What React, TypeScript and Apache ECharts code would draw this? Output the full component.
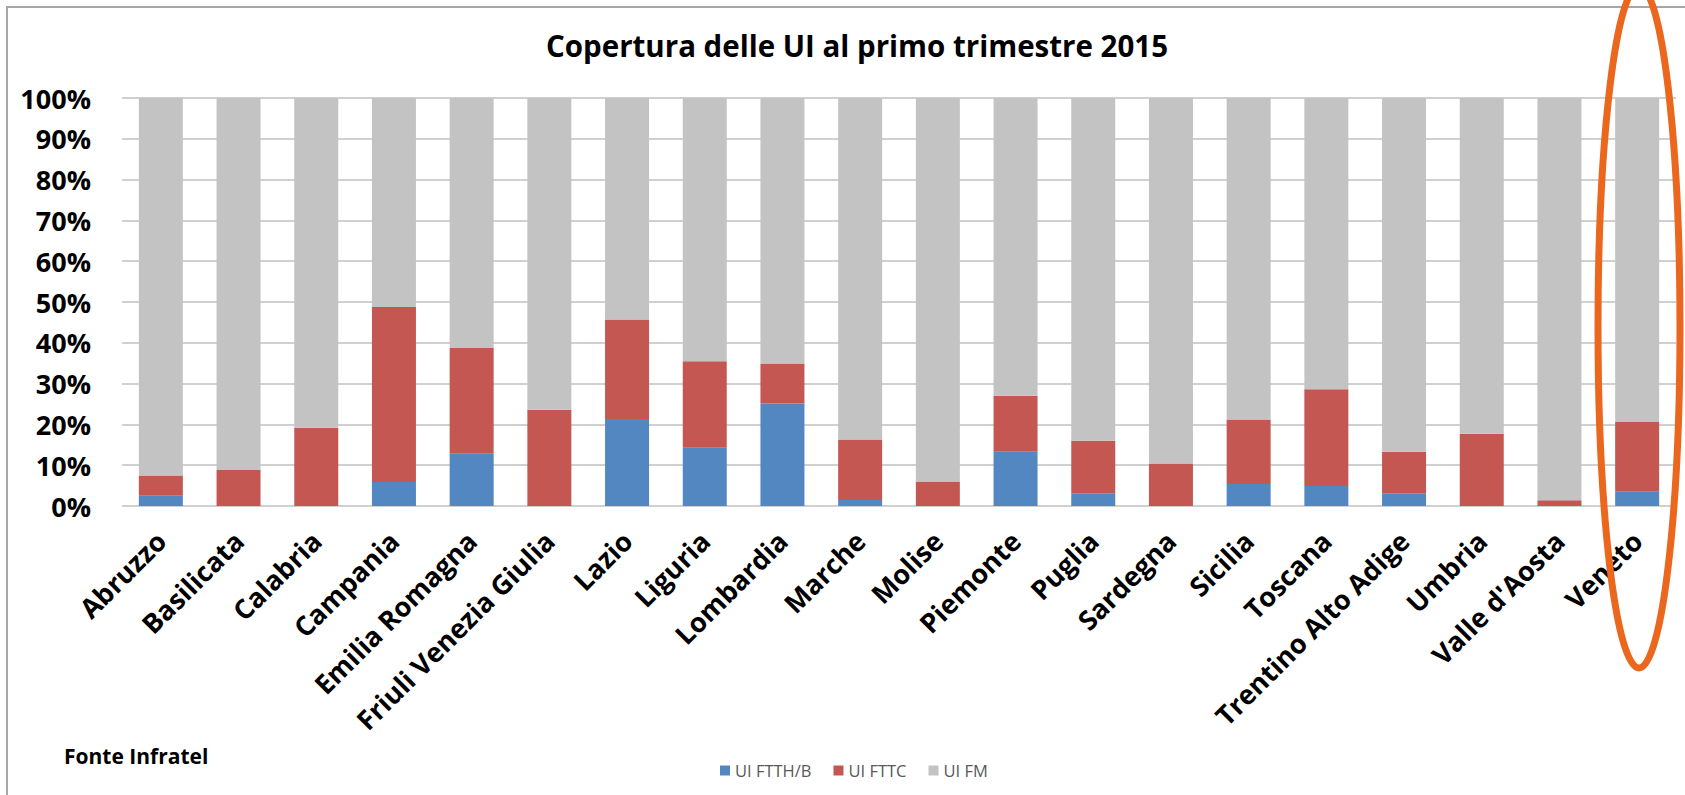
import React, { useEffect, useRef } from "react";
import * as echarts from "echarts";

const regions = [
  "Abruzzo", "Basilicata", "Calabria", "Campania", "Emilia Romagna",
  "Friuli Venezia Giulia", "Lazio", "Liguria", "Lombardia", "Marche",
  "Molise", "Piemonte", "Puglia", "Sardegna", "Sicilia", "Toscana",
  "Trentino Alto Adige", "Umbria", "Valle d'Aosta", "Veneto",
];
const uiFtthB = [2.5, 0, 0, 5.9, 12.8, 0, 21.3, 14.3, 25.1, 1.5, 0, 13.3, 3.1, 0, 5.4, 4.9, 3.1, 0, 0, 3.5];
const uiFttc = [5.0, 8.8, 19.2, 42.9, 25.9, 23.6, 24.4, 21.2, 9.8, 14.8, 6.0, 13.7, 12.9, 10.4, 15.8, 23.7, 10.2, 17.7, 1.4, 17.1];
const uiFm = [92.5, 91.2, 80.8, 51.2, 61.3, 76.4, 54.3, 64.5, 65.1, 83.7, 94.0, 73.0, 84.0, 89.6, 78.8, 71.4, 86.7, 82.3, 98.6, 79.4];
const seriesNames = ["UI FTTH/B", "UI FTTC", "UI FM"];
const seriesColors = ["#5387C1", "#C45752", "#C3C3C3"];
const yTicks = { min: 0, max: 100, interval: 10 };

const FONT = "'Open Sans', 'Noto Sans', sans-serif";

export default function App() {
  const ref = useRef<HTMLDivElement>(null);
  useEffect(() => {
    document.body.style.margin = "0";
    if (!ref.current) return;
    const chart = echarts.init(ref.current, null, { renderer: "svg" });
    const data = [uiFtthB, uiFttc, uiFm];
    chart.setOption({
      animation: false,
      backgroundColor: "#ffffff",
      textStyle: { fontFamily: FONT },
      title: {
        text: "Copertura delle UI al primo trimestre 2015",
        left: 852,
        top: 25,
        textAlign: "center",
        textStyle: { fontFamily: FONT, fontSize: 29.5, fontWeight: "bold", color: "#000" },
      },
      legend: {
        data: seriesNames,
        left: 715,
        top: 757,
        itemWidth: 10,
        itemHeight: 10,
        itemGap: 22,
        icon: "rect",
        textStyle: { fontFamily: FONT, fontSize: 16.5, color: "#595959" },
      },
      grid: { left: 122, right: 9, top: 98, bottom: 289, containLabel: false },
      xAxis: {
        type: "category",
        data: regions,
        axisLine: { show: false },
        axisTick: { show: false },
        axisLabel: {
          interval: 0,
          rotate: 45,
          margin: 30,
          fontFamily: FONT,
          fontSize: 27,
          fontWeight: "bold",
          color: "#000",
        },
      },
      yAxis: {
        type: "value",
        min: yTicks.min,
        max: yTicks.max,
        interval: yTicks.interval,
        axisLine: { show: false },
        axisTick: { show: false },
        splitLine: { lineStyle: { color: "#D0D0D0", width: 2 } },
        axisLabel: {
          formatter: "{value}%",
          margin: 31,
          fontFamily: FONT,
          fontSize: 27,
          fontWeight: "bold",
          color: "#000",
        },
      },
      series: seriesNames.map((name, i) => ({
        name,
        type: "bar",
        stack: "total",
        barWidth: 44,
        data: data[i],
        itemStyle: { color: seriesColors[i] },
      })),
      graphic: [
        {
          type: "rect",
          silent: true,
          shape: { x: 7, y: 7, width: 1700, height: 820 },
          style: { fill: "none", stroke: "#A6A6A6", lineWidth: 2 },
          z: 0,
        },
        {
          type: "text",
          left: 64,
          top: 745,
          style: { text: "Fonte Infratel", fontFamily: FONT, fontSize: 21, fontWeight: "bold", fill: "#000" },
        },
        {
          type: "ellipse",
          silent: true,
          shape: { cx: 1639, cy: 327, rx: 41, ry: 341 },
          style: { fill: "none", stroke: "#EA671D", lineWidth: 7 },
          z: 100,
        },
      ],
    });
    return () => chart.dispose();
  }, []);
  return <div ref={ref} style={{ width: 1685, height: 795 }} />;
}
